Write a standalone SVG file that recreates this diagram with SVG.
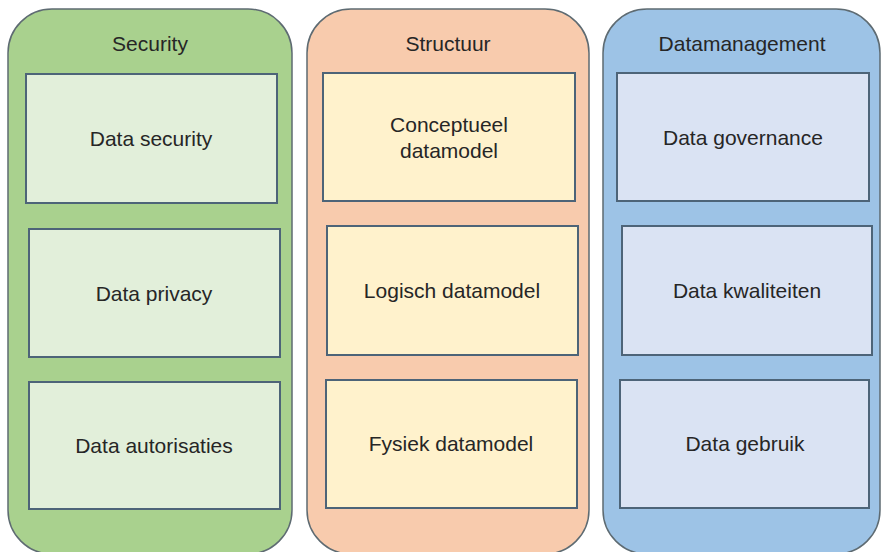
<svg xmlns="http://www.w3.org/2000/svg" width="884" height="552" viewBox="0 0 884 552">
  <style>
    .col { stroke: #5e6b72; stroke-width: 1.5; }
    .box { stroke: #4d6478; stroke-width: 2; }
    .g-col { fill: #a9d18e; }
    .o-col { fill: #f8cbad; }
    .b-col { fill: #9dc3e6; }
    .g-box { fill: #e2efda; }
    .o-box { fill: #fff2cc; }
    .b-box { fill: #dae3f3; }
    text { font-family: "Liberation Sans", Arial, sans-serif; font-size: 21px; fill: #262626; text-anchor: middle; }
  </style>
  <rect width="884" height="552" fill="#ffffff"/>

  <!-- Security column -->
  <g id="security">
    <rect class="col g-col" x="8" y="9" width="284" height="545" rx="44" ry="44"/>
    <text x="150" y="51">Security</text>
  </g>
  <g id="data-security">
    <rect class="box g-box" x="26" y="74" width="251" height="129"/>
    <text x="151" y="146">Data security</text>
  </g>
  <g id="data-privacy">
    <rect class="box g-box" x="29" y="229" width="251" height="128"/>
    <text x="154" y="301">Data privacy</text>
  </g>
  <g id="data-autorisaties">
    <rect class="box g-box" x="29" y="382" width="251" height="127"/>
    <text x="154" y="453">Data autorisaties</text>
  </g>

  <!-- Structuur column -->
  <g id="structuur">
    <rect class="col o-col" x="307" y="9" width="282" height="545" rx="44" ry="44"/>
    <text x="448" y="51">Structuur</text>
  </g>
  <g id="conceptueel-datamodel">
    <rect class="box o-box" x="323" y="73" width="252" height="128"/>
    <text x="449" y="132">Conceptueel</text>
    <text x="449" y="158">datamodel</text>
  </g>
  <g id="logisch-datamodel">
    <rect class="box o-box" x="327" y="226" width="251" height="129"/>
    <text x="452" y="298">Logisch datamodel</text>
  </g>
  <g id="fysiek-datamodel">
    <rect class="box o-box" x="326" y="380" width="251" height="128"/>
    <text x="451" y="451">Fysiek datamodel</text>
  </g>

  <!-- Datamanagement column -->
  <g id="datamanagement">
    <rect class="col b-col" x="603" y="9" width="277" height="545" rx="44" ry="44"/>
    <text x="742" y="51">Datamanagement</text>
  </g>
  <g id="data-governance">
    <rect class="box b-box" x="617" y="73" width="252" height="128"/>
    <text x="743" y="145">Data governance</text>
  </g>
  <g id="data-kwaliteiten">
    <rect class="box b-box" x="622" y="226" width="250" height="129"/>
    <text x="747" y="298">Data kwaliteiten</text>
  </g>
  <g id="data-gebruik">
    <rect class="box b-box" x="620" y="380" width="249" height="128"/>
    <text x="745" y="451">Data gebruik</text>
  </g>

  <!-- no connectors in this diagram -->
  <g id="connectors"/>
</svg>
